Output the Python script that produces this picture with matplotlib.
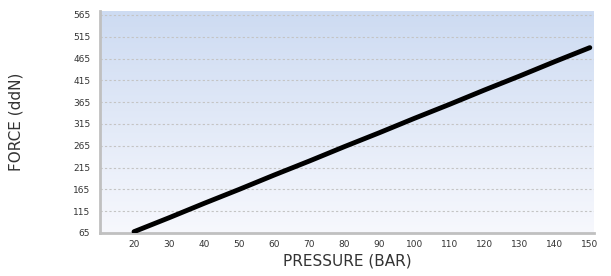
import numpy as np
import matplotlib
matplotlib.use("Agg")
import matplotlib.pyplot as plt
from matplotlib.colors import LinearSegmentedColormap

pressure = [20, 30, 40, 50, 60, 70, 80, 90, 100, 110, 120, 130, 140, 150]
force = [68, 100, 133, 165, 198, 230, 263, 295, 328, 360, 393, 425, 458, 490]
y_ticks = [65, 115, 165, 215, 265, 315, 365, 415, 465, 515, 565]
x_ticks = [20, 30, 40, 50, 60, 70, 80, 90, 100, 110, 120, 130, 140, 150]

fig = plt.figure(figsize=(6.11, 2.76), dpi=100)
ax = fig.add_axes([0.1637, 0.1558, 0.8085, 0.8043])

cmap = LinearSegmentedColormap.from_list("bg", ["#f7f8fd", "#cddbf2"])
grad = np.linspace(0, 1, 256).reshape(-1, 1)
ax.imshow(grad, aspect="auto", cmap=cmap, origin="lower",
          extent=[0, 1, 0, 1], transform=ax.transAxes, zorder=0)

ax.set_xlim(10.3, 151.2)
ax.set_ylim(65, 574)

for y in y_ticks:
    ax.axhline(y, color="#c4c4c4", linestyle=(0, (2, 2)), linewidth=0.8, zorder=1)

ax.plot(pressure, force, color="black", linewidth=3.5, solid_capstyle="round", zorder=3)

ax.set_xticks(x_ticks)
ax.set_yticks(y_ticks)
ax.tick_params(axis="both", length=0, labelsize=6.5, colors="#333333")
ax.tick_params(axis="x", pad=5)
ax.tick_params(axis="y", pad=7)

for s in ["top", "right"]:
    ax.spines[s].set_visible(False)
for s in ["left", "bottom"]:
    ax.spines[s].set_color("#c0c0c0")
    ax.spines[s].set_linewidth(2)

ax.set_xlabel("PRESSURE (BAR)", fontsize=11, color="#333333", labelpad=3)
ax.set_ylabel("FORCE (ddN)", fontsize=11, color="#333333", labelpad=36)

fig.savefig("out.png", dpi=100)
